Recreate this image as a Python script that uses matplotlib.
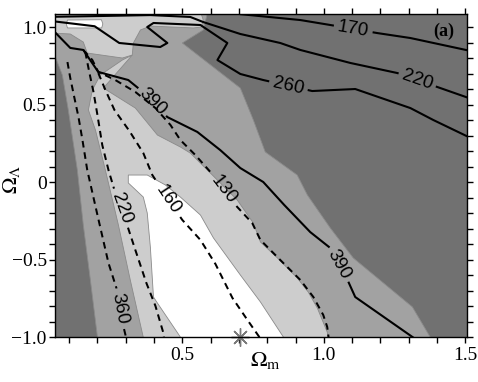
import numpy as np
import matplotlib
matplotlib.use("Agg")
import matplotlib.pyplot as plt
from matplotlib.ticker import FixedLocator, FixedFormatter, MultipleLocator

# ---------------- data (Omega_m, Omega_Lambda) ----------------
# filled likelihood regions (nested): mid grey, light grey, white
mid_x = [0.206, 1.392, 1.313, 1.104, 1.023, 0.942, 0.906, 0.793, 0.751, 0.705, 0.500,
         0.574, 0.590, 0.040, 0.040, 0.076, 0.097, 0.129, 0.150, 0.175, 0.200]
mid_y = [-1.05, -1.05, -0.806, -0.490, -0.297, -0.084, 0.045, 0.194, 0.400, 0.606, 0.897,
         0.981, 1.10, 1.10, 0.860, 0.690, 0.465, 0.077, -0.277, -0.632, -1.0]

light1_x = [0.040, 0.564, 0.574, 0.567, 0.539, 0.387, 0.352, 0.327, 0.323, 0.288, 0.164,
            0.150, 0.104, 0.040]
light1_y = [1.10, 1.10, 1.045, 1.000, 0.994, 1.006, 0.981, 0.897, 0.819, 0.800, 0.832,
            0.903, 0.955, 0.961]

light2_x = [0.368, 0.316, 0.274, 0.228, 0.193, 0.168, 0.182, 0.210, 0.288, 0.323, 0.221,
            0.334, 0.412, 0.493, 0.528, 0.599, 0.694, 0.751, 0.776, 0.836, 0.906, 0.945,
            0.977, 1.012, 1.018]
light2_y = [-1.05, -0.632, -0.277, 0.077, 0.335, 0.465, 0.594, 0.690, 0.787, 0.819, 0.606,
            0.477, 0.303, 0.226, 0.187, 0.058, -0.116, -0.265, -0.387, -0.490, -0.619, -0.710,
            -0.813, -0.968, -1.05]

white_x = [0.309, 0.376, 0.440, 0.493, 0.564, 0.610, 0.705, 0.776, 0.857, 0.870, 0.490,
           0.493, 0.412, 0.398, 0.387, 0.376, 0.362, 0.309]
white_y = [0.045, 0.045, -0.019, -0.097, -0.213, -0.361, -0.600, -0.774, -1.0, -1.05, -1.05,
           -1.0, -0.781, -0.742, -0.420, -0.200, -0.097, -0.006]

patch_x = [0.094, 0.214, 0.219, 0.215, 0.094, 0.090]
patch_y = [1.045, 1.047, 1.020, 0.994, 0.994, 1.020]

# solid contours
c170_x = [0.690, 0.705, 0.917, 1.023, 1.189, 1.306, 1.520]
c170_y = [1.090, 1.083, 1.045, 1.013, 0.961, 0.929, 0.845]
c170_lab = [("170", 1.104, 0.988)]

c220_x = [0.040, 0.210, 0.387, 0.528, 0.574, 0.705, 0.846, 0.917, 1.094, 1.260, 1.412, 1.520]
c220_y = [1.066, 1.071, 1.077, 1.065, 1.032, 0.955, 0.897, 0.852, 0.768, 0.703, 0.606, 0.537]
c220_lab = [("220", 1.330, 0.658)]

c260_x = [0.040, 0.190, 0.277, 0.422, 0.447, 0.376, 0.398, 0.564, 0.659, 0.624, 0.705, 0.786,
          0.959, 1.111, 1.306, 1.387, 1.520]
c260_y = [1.038, 1.005, 0.897, 0.871, 0.897, 1.000, 1.026, 1.013, 0.897, 0.787, 0.697, 0.658,
          0.587, 0.600, 0.477, 0.400, 0.283]
c260_lab = [("260", 0.875, 0.621)]

c390_x = [0.040, 0.104, 0.150, 0.203, 0.309, 0.352, 0.447, 0.553, 0.634, 0.705, 0.786, 0.860,
          0.952, 1.023, 1.087, 1.111, 1.329]
c390_y = [0.985, 0.865, 0.852, 0.710, 0.658, 0.594, 0.419, 0.323, 0.206, 0.090, 0.000, -0.148,
          -0.323, -0.426, -0.645, -0.742, -1.02]
c390_lab = [("390", 0.394, 0.517), ("390", 1.051, -0.535)]

# dashed contours
d130_x = [0.150, 0.182, 0.203, 0.263, 0.334, 0.405, 0.458, 0.493, 0.546, 0.599, 0.645, 0.694,
          0.747, 0.776, 0.846, 0.917, 0.963, 0.998, 1.012, 1.018]
d130_y = [0.852, 0.787, 0.710, 0.658, 0.581, 0.477, 0.368, 0.271, 0.174, 0.065, -0.052, -0.161,
          -0.265, -0.374, -0.503, -0.632, -0.742, -0.858, -0.935, -1.02]
d130_lab = [("130", 0.645, -0.052)]

d160_x = [0.203, 0.228, 0.260, 0.313, 0.362, 0.394, 0.415, 0.451, 0.500, 0.564, 0.617, 0.677,
          0.730, 0.772, 0.776]
d160_y = [0.703, 0.594, 0.465, 0.329, 0.187, 0.045, -0.013, -0.116, -0.245, -0.374, -0.529,
          -0.748, -0.890, -1.0, -1.02]
d160_lab = [("160", 0.451, -0.116)]

d220_x = [0.157, 0.171, 0.186, 0.200, 0.217, 0.239, 0.260, 0.284, 0.306, 0.334, 0.373, 0.405,
          0.433, 0.436]
d220_y = [0.839, 0.710, 0.581, 0.432, 0.239, 0.077, -0.052, -0.168, -0.284, -0.439, -0.652,
          -0.800, -0.974, -1.02]
d220_lab = [("220", 0.284, -0.168)]

d360_x = [0.094, 0.104, 0.118, 0.133, 0.147, 0.164, 0.200, 0.239, 0.267, 0.277, 0.299, 0.302]
d360_y = [0.774, 0.671, 0.548, 0.419, 0.271, 0.077, -0.213, -0.523, -0.684, -0.819, -0.987, -1.02]
d360_lab = [("360", 0.277, -0.819)]

best_fit = (0.705, -1.0)

xticks = [0.5, 1.0, 1.5]
xtick_labels = ["0.5", "1.0", "1.5"]
yticks = [-1.0, -0.5, 0.0, 0.5, 1.0]
ytick_labels = ["\u22121.0", "\u22120.5", "0", "0.5", "1.0"]

# ---------------- style ----------------
SERIF = ["Liberation Serif", "DejaVu Serif"]
plt.rcParams["font.family"] = "serif"
plt.rcParams["font.serif"] = SERIF
plt.rcParams["mathtext.fontset"] = "stix"

C_DARK, C_MID, C_LIGHT = "#717171", "#a2a2a2", "#cdcdcd"
EDGE = "#8a8a8a"

fig = plt.figure(figsize=(4.78, 3.82), dpi=100)
ax = fig.add_axes([55 / 478, 1 - 337 / 382, 412 / 478, 323 / 382])
ax.set_xlim(0.05, 1.506)
ax.set_ylim(-1.0, 1.084)
ax.set_facecolor(C_DARK)

for xs, ys, col in [(mid_x, mid_y, C_MID), (light1_x, light1_y, C_LIGHT),
                    (light2_x, light2_y, C_LIGHT), (white_x, white_y, "white"),
                    (patch_x, patch_y, "white")]:
    ax.fill(xs, ys, facecolor=col, edgecolor=EDGE, lw=0.6, zorder=1)

renderer = fig.canvas.get_renderer()
LAB_FONT = dict(family=["Liberation Sans", "DejaVu Sans"], fontsize=13.5)


def labeled_line(xs, ys, labels, dashed):
    pts = ax.transData.transform(np.column_stack([xs, ys]))
    seg = np.diff(pts, axis=0)
    seglen = np.hypot(seg[:, 0], seg[:, 1])
    cum = np.concatenate([[0.0], np.cumsum(seglen)])
    inv = ax.transData.inverted()

    def point_at(s):
        s = np.clip(s, 0, cum[-1])
        j = int(np.clip(np.searchsorted(cum, s) - 1, 0, len(seg) - 1))
        t = (s - cum[j]) / seglen[j] if seglen[j] > 0 else 0
        return pts[j] + t * seg[j]

    gaps = []
    for text, lx, ly in labels:
        lp = ax.transData.transform((lx, ly))
        best = None
        for i in range(len(seg)):
            d = seg[i]
            L2 = d @ d
            t = np.clip(((lp - pts[i]) @ d) / L2, 0, 1) if L2 > 0 else 0
            p = pts[i] + t * d
            dist = np.hypot(*(p - lp))
            if best is None or dist < best[0]:
                best = (dist, cum[i] + t * seglen[i])
        s0 = best[1]
        tmp = ax.text(0, 0, text, **LAB_FONT)
        w = tmp.get_window_extent(renderer).width
        tmp.remove()
        g = w / 2 + 5
        gaps.append((s0 - g, s0 + g))
        a, b = point_at(s0 - g), point_at(s0 + g)
        ang = np.degrees(np.arctan2(b[1] - a[1], b[0] - a[0]))
        if ang > 90:
            ang -= 180
        if ang < -90:
            ang += 180
        cx, cy = inv.transform(point_at(s0))
        ax.text(cx, cy, text, rotation=ang, rotation_mode="anchor", ha="center",
                va="center", zorder=4, **LAB_FONT)

    gaps.sort()
    intervals = []
    start = 0.0
    for a, b in gaps:
        intervals.append((start, a))
        start = b
    intervals.append((start, cum[-1]))
    for a, b in intervals:
        if b <= a:
            continue
        part = [point_at(a)] + [pts[k] for k in range(len(pts)) if a < cum[k] < b] + [point_at(b)]
        part = inv.transform(np.array(part))
        if dashed:
            ax.plot(part[:, 0], part[:, 1], color="black", lw=1.45, zorder=3,
                    dashes=(3.3, 2.4), solid_capstyle="butt")
        else:
            ax.plot(part[:, 0], part[:, 1], color="black", lw=1.5, zorder=3)


for xs, ys, lab in [(c170_x, c170_y, c170_lab), (c220_x, c220_y, c220_lab),
                    (c260_x, c260_y, c260_lab), (c390_x, c390_y, c390_lab)]:
    labeled_line(xs, ys, lab, dashed=False)
for xs, ys, lab in [(d130_x, d130_y, d130_lab), (d160_x, d160_y, d160_lab),
                    (d220_x, d220_y, d220_lab), (d360_x, d360_y, d360_lab)]:
    labeled_line(xs, ys, lab, dashed=True)

ax.plot([best_fit[0]], [best_fit[1]], marker=(8, 2, 0), ms=13, mew=1.0,
        color="#7a7a7a", clip_on=False, zorder=6)

ax.text(0.944, 0.945, "(a)", transform=ax.transAxes, ha="center", va="center",
        fontsize=13, fontweight="bold", family=SERIF, zorder=6)

# axes / ticks
ax.xaxis.set_major_locator(FixedLocator(xticks))
ax.xaxis.set_major_formatter(FixedFormatter(xtick_labels))
ax.yaxis.set_major_locator(FixedLocator(yticks))
ax.yaxis.set_major_formatter(FixedFormatter(ytick_labels))
ax.xaxis.set_minor_locator(MultipleLocator(0.1))
ax.yaxis.set_minor_locator(MultipleLocator(0.1))
ax.tick_params(which="both", direction="out", top=True, right=True, length=4,
               width=1.0, labelsize=14, pad=3)
ax.tick_params(axis="y", which="both", pad=2)
for lbl in ax.get_xticklabels() + ax.get_yticklabels():
    lbl.set_family(SERIF)
for sp in ax.spines.values():
    sp.set_linewidth(1.0)
    sp.set_zorder(7)

ax.set_xlabel(r"$\Omega_{\rm m}$", fontsize=16)
ax.xaxis.set_label_coords(0.51, -0.04)
ax.set_ylabel(r"$\Omega_{\Lambda}$", fontsize=16)
ax.yaxis.set_label_coords(-0.08, 0.49)

fig.savefig("out.png", dpi=100)
